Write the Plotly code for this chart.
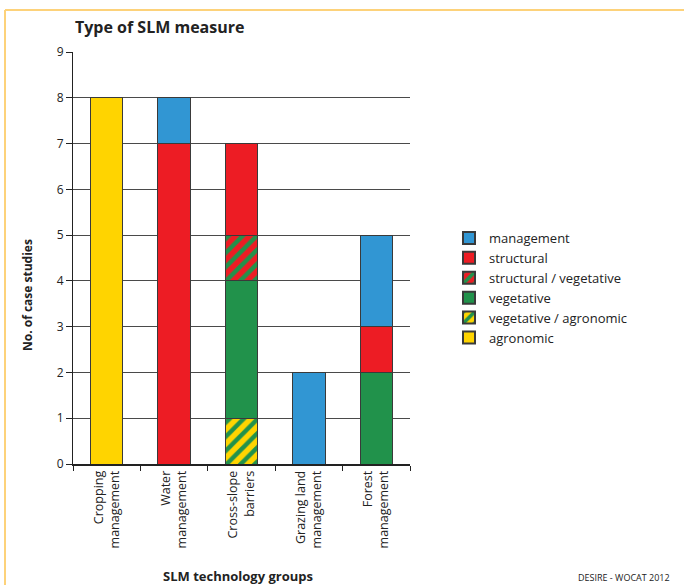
import plotly.graph_objects as go

# SLM technology groups (x categories)
GROUPS = ["Cropping<br>management", "Water<br>management", "Cross-slope<br>barriers",
          "Grazing land<br>management", "Forest<br>management"]

# number of case studies per type of measure (None = no bar)
AGRONOMIC = [8, None, None, None, None]
VEG_AGRONOMIC = [None, None, 1, None, None]
VEGETATIVE = [None, None, 3, None, 2]
STRUCT_VEGETATIVE = [None, None, 1, None, None]
STRUCTURAL = [None, 7, 2, None, 1]
MANAGEMENT = [None, 1, None, 2, 2]

Y_TICKS = list(range(0, 10))

YELLOW = "#FFD400"
RED = "#ED1C24"
BLUE = "#3196D3"
GREEN = "#21924B"
OUTLINE = "#3a3a3a"
BORDER = "#FDD27A"
FONT = "Open Sans"

# plot area in pixels: x 73..410, y 52..464
L, R, T, B = 73, 274, 52, 121
W, H = 684, 585
PW, PH = W - L - R, H - T - B


def px_x(px):
    return (px - L) / PW


def px_y(py):
    return (H - B - py) / PH


def bar(name, values, color, pattern=None):
    marker = dict(color=color, line=dict(color=OUTLINE, width=1))
    if pattern:
        marker["pattern"] = dict(shape="/", fgcolor=GREEN, bgcolor=color,
                                 size=10, solidity=0.45, fillmode="replace")
    return go.Bar(x=GROUPS, y=values, name=name, marker=marker, hoverinfo="skip")


fig = go.Figure()
fig.add_trace(bar("agronomic", AGRONOMIC, YELLOW))
fig.add_trace(bar("vegetative / agronomic", VEG_AGRONOMIC, YELLOW, pattern=True))
fig.add_trace(bar("vegetative", VEGETATIVE, GREEN))
fig.add_trace(bar("structural / vegetative", STRUCT_VEGETATIVE, RED, pattern=True))
fig.add_trace(bar("structural", STRUCTURAL, RED))
fig.add_trace(bar("management", MANAGEMENT, BLUE))

fig.update_layout(
    width=W, height=H,
    margin=dict(l=L, r=R, t=T, b=B, autoexpand=False),
    barmode="stack", bargap=0.52,
    paper_bgcolor="white", plot_bgcolor="white",
    font=dict(family=FONT, size=12, color="#222"),
    showlegend=True,
    legend=dict(x=px_x(449), y=px_y(223), xanchor="left", yanchor="top",
                traceorder="reversed", font=dict(size=13, color="#222"),
                itemsizing="constant", tracegroupgap=0, bgcolor="rgba(0,0,0,0)"),
)

fig.update_xaxes(
    type="category", tickangle=-90, tickson="boundaries", ticks="outside",
    ticklen=5, tickcolor="#222", showline=True, linecolor="#222", linewidth=1.5,
    showgrid=False, tickfont=dict(size=12.5, color="#222"), fixedrange=True,
)
fig.update_yaxes(
    range=[0, 9], tickvals=Y_TICKS, ticks="outside", ticklen=6, tickcolor="#222",
    showline=True, linecolor="#222", linewidth=1, showgrid=True, gridcolor="#4a4a4a",
    gridwidth=1, zeroline=False, tickfont=dict(size=12, color="#222"), fixedrange=True,
)

# frame lines of the original figure box
fig.add_shape(type="line", xref="paper", yref="paper", x0=px_x(5), x1=px_x(700),
              y0=px_y(10), y1=px_y(10), line=dict(color=BORDER, width=2))
fig.add_shape(type="line", xref="paper", yref="paper", x0=px_x(5), x1=px_x(5),
              y0=px_y(10), y1=px_y(600), line=dict(color=BORDER, width=2))

fig.add_annotation(text="<b>Type of SLM measure</b>", xref="paper", yref="paper",
                   x=px_x(73), y=px_y(27), xanchor="left", yanchor="middle",
                   showarrow=False, font=dict(size=16, color="#222"))
fig.add_annotation(text="<b>No. of case studies</b>", xref="paper", yref="paper",
                   x=px_x(27), y=px_y(295), textangle=-90, xanchor="center",
                   yanchor="middle", showarrow=False, font=dict(size=12, color="#222"))
fig.add_annotation(text="<b>SLM technology groups</b>", xref="paper", yref="paper",
                   x=px_x(238), y=px_y(576), xanchor="center", yanchor="middle",
                   showarrow=False, font=dict(size=13, color="#222"))
fig.add_annotation(text="DESIRE - WOCAT 2012", xref="paper", yref="paper",
                   x=px_x(672), y=px_y(577), xanchor="right", yanchor="middle",
                   showarrow=False, font=dict(size=9, color="#222"))

# the page body has an 8px default margin; drop it so pixels line up
fig.write_html("out.html", config={"displayModeBar": False},
               post_script="document.body.style.margin='0';")
